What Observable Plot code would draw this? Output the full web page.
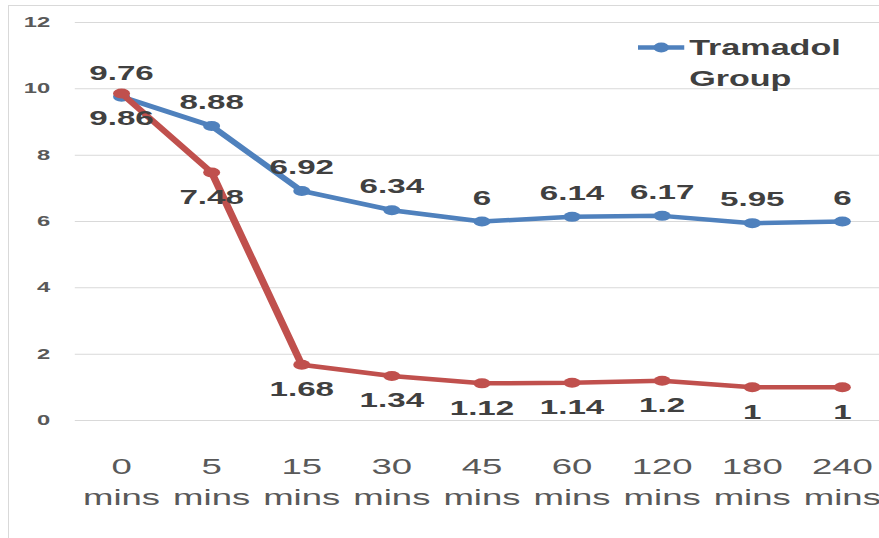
<!DOCTYPE html>
<html>
<head>
<meta charset="utf-8">
<script src="https://cdn.jsdelivr.net/npm/d3@7"></script>
<script src="https://cdn.jsdelivr.net/npm/@observablehq/plot@0.6"></script>
<style>
  html, body { margin: 0; padding: 0; background: #ffffff; overflow: hidden; }
  #wrap { position: absolute; left: 0; top: 0; width: 879px; height: 538px; overflow: hidden; background: #fff; }
  #frame { position: absolute; left: 8px; top: 5px; right: -10px; bottom: -10px;
           border-left: 1px solid #d9d9d9; border-top: 1px solid #d9d9d9; }
  #chart { position: absolute; left: 0; top: 0; transform: scaleX(1.7); transform-origin: 0 0; }
  #legend { position: absolute; left: 638px; top: 32px; display: flex; align-items: flex-start;
            transform: scaleX(1.55); transform-origin: 0 0;
            font-family: "Liberation Sans", Arial, sans-serif; font-weight: bold; font-size: 22px;
            line-height: 31px; color: #404040; }
  #legend .txt { margin-left: 3px; white-space: nowrap; }
</style>
</head>
<body>
<div id="wrap">
  <div id="frame"></div>
  <div id="chart"></div>
  <div id="legend"></div>
</div>
<script>
// ---- data ----
const times = ["0", "5", "15", "30", "45", "60", "120", "180", "240"];
const tramadolValues = [9.76, 8.88, 6.92, 6.34, 6, 6.14, 6.17, 5.95, 6];
const otherValues = [9.86, 7.48, 1.68, 1.34, 1.12, 1.14, 1.2, 1, 1];
const seriesNames = ["Tramadol Group", "Other Group"];
const seriesColors = ["#4F81BD", "#C0504D"];
const yTicks = [0, 2, 4, 6, 8, 10, 12];
const timeUnit = "mins";

const tramadolRows = times.map((t, i) => ({time: t, value: tramadolValues[i], series: seriesNames[0]}));
const otherRows = times.map((t, i) => ({time: t, value: otherValues[i], series: seriesNames[1]}));

const labelStyle = {fontSize: 19.5, fontWeight: "bold", fill: "#404040"};

const chart = Plot.plot({
  width: 530,
  height: 538,
  marginLeft: 44,
  marginRight: 8,
  marginTop: 22,
  marginBottom: 118,
  style: {fontFamily: "'Liberation Sans', Arial, sans-serif", background: "transparent", overflow: "visible"},
  x: {type: "point", domain: times, padding: 0.5},
  y: {domain: [0, 12]},
  color: {domain: seriesNames, range: seriesColors},
  marks: [
    Plot.gridY({ticks: yTicks, stroke: "#d9d9d9", strokeOpacity: 1, strokeWidth: 1}),
    Plot.axisY({ticks: yTicks, tickSize: 0, tickPadding: 15, fontSize: 14, fontWeight: "bold", fill: "#595959", label: null}),
    Plot.axisX({tickSize: 0, tickPadding: 31, fontSize: 21.5, lineHeight: 1.45, fill: "#595959",
                tickFormat: d => d + "\n" + timeUnit, label: null}),
    Plot.line(tramadolRows, {x: "time", y: "value", stroke: "series", strokeWidth: 4.5}),
    Plot.dot(tramadolRows, {x: "time", y: "value", fill: "series", r: 5}),
    Plot.line(otherRows, {x: "time", y: "value", stroke: "series", strokeWidth: 4.5}),
    Plot.dot(otherRows, {x: "time", y: "value", fill: "series", r: 5}),
    Plot.text(tramadolRows, {x: "time", y: "value", text: d => String(d.value), dy: -23, ...labelStyle}),
    Plot.text(otherRows, {x: "time", y: "value", text: d => String(d.value), dy: 25, ...labelStyle})
  ]
});
document.getElementById("chart").appendChild(chart);

// legend (only the first series is visible in the cropped original)
const legend = document.getElementById("legend");
const sw = d3.create("svg").attr("width", 30).attr("height", 31);
sw.append("line").attr("x1", 0).attr("x2", 30).attr("y1", 15.5).attr("y2", 15.5)
  .attr("stroke", seriesColors[0]).attr("stroke-width", 4.5);
sw.append("circle").attr("cx", 15).attr("cy", 15.5).attr("r", 5).attr("fill", seriesColors[0]);
legend.appendChild(sw.node());
const txt = document.createElement("div");
txt.className = "txt";
txt.innerHTML = seriesNames[0].replace(" ", "<br>");
legend.appendChild(txt);
</script>
</body>
</html>
